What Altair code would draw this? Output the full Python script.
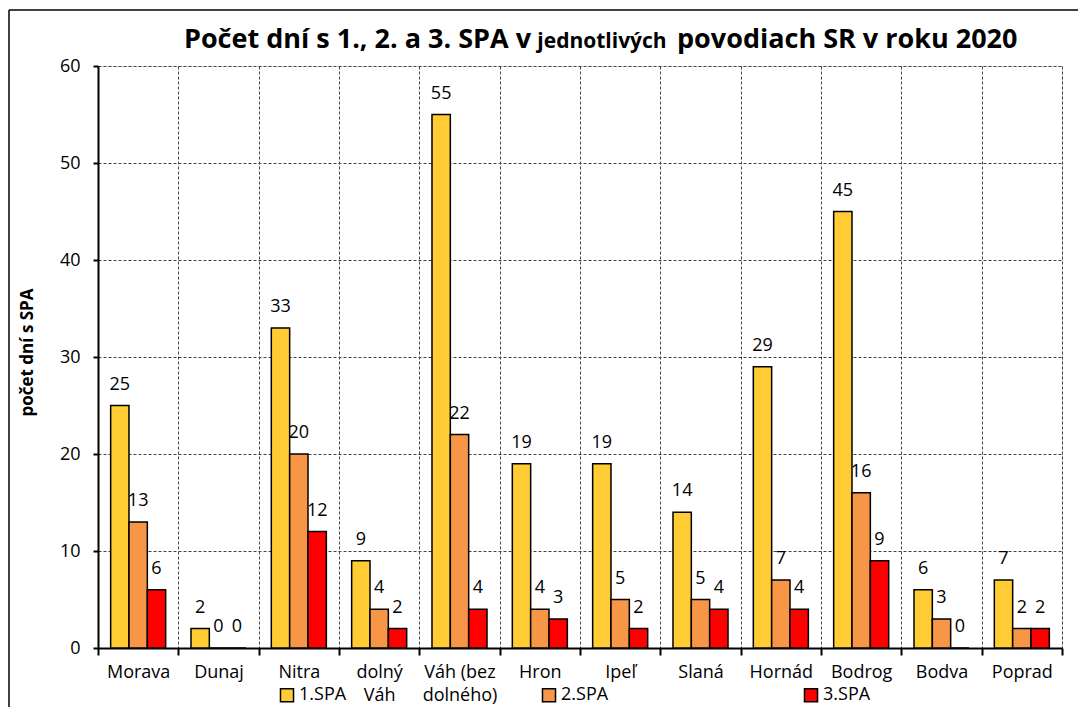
import altair as alt
import pandas as pd

basins = ["Morava", "Dunaj", "Nitra", "dolný Váh", "Váh (bez dolného)", "Hron",
          "Ipeľ", "Slaná", "Hornád", "Bodrog", "Bodva", "Poprad"]
series = ["1.SPA", "2.SPA", "3.SPA"]
spa1 = [25, 2, 33, 9, 55, 19, 19, 14, 29, 45, 6, 7]
spa2 = [13, 0, 20, 4, 22, 4, 5, 5, 7, 16, 3, 2]
spa3 = [6, 0, 12, 2, 4, 3, 2, 4, 4, 9, 0, 2]
colors = ["#FFCC33", "#F79646", "#FF0000"]
y_ticks = [0, 10, 20, 30, 40, 50, 60]

title_left = "Počet dní s 1., 2. a 3. SPA v"
title_mid = "jednotlivých"
title_right = "povodiach SR v roku 2020"
y_title = "počet dní s SPA"

rows = []
for s, vals in zip(series, [spa1, spa2, spa3]):
    for b, v in zip(basins, vals):
        rows.append({"povodie": b, "spa": s, "dni": v})
df = pd.DataFrame(rows)

FONT = "Open Sans"
FS = 18

label_expr = ("datum.label == 'dolný Váh' ? ['dolný', 'Váh'] : "
              "datum.label == 'Váh (bez dolného)' ? ['Váh (bez', 'dolného)'] : datum.label")

x_enc = alt.X("povodie:N", sort=basins,
              scale=alt.Scale(paddingInner=0, paddingOuter=0),
              axis=alt.Axis(title=None, tickBand="extent", grid=True,
                            gridDash=[3, 2], gridColor="#444444", gridWidth=1,
                            labelAngle=0, labelFontSize=FS, labelColor="black",
                            labelFont=FONT, labelPadding=8, labelLineHeight=23,
                            labelExpr=label_expr, tickSize=7, tickColor="black",
                            tickWidth=2, domainColor="black", domainWidth=2))
xo_enc = alt.XOffset("spa:N", sort=series,
                     scale=alt.Scale(paddingInner=0, paddingOuter=0.69))
y_enc = alt.Y("dni:Q", scale=alt.Scale(domain=[0, 60], nice=False),
              axis=alt.Axis(values=y_ticks, title=y_title, titleFont=FONT,
                            titleFontSize=17, titleFontWeight="bold",
                            titleColor="black", titleX=-71, titleY=286,
                            titleAngle=-90, titleAlign="center",
                            titleBaseline="middle",
                            grid=True, gridDash=[3, 2], gridColor="#444444",
                            labelFontSize=FS, labelColor="black", labelFont=FONT,
                            labelPadding=13, tickSize=5, tickColor="black",
                            tickWidth=2, domainColor="black", domainWidth=2))

base = alt.Chart(df)

bars = base.mark_bar(stroke="black", strokeWidth=1.5).encode(
    x=x_enc, xOffset=xo_enc, y=y_enc,
    color=alt.Color("spa:N", sort=series,
                    scale=alt.Scale(domain=series, range=colors),
                    legend=alt.Legend(title=None, orient="none", legendX=180,
                                      legendY=620, direction="horizontal",
                                      symbolType="square", symbolSize=170,
                                      symbolStrokeColor="black",
                                      symbolStrokeWidth=1.5, labelFontSize=FS,
                                      labelFont=FONT, labelColor="black",
                                      columnPadding=192, labelOffset=3))
)

labels = base.mark_text(baseline="alphabetic", dy=-16, fontSize=FS, font=FONT,
                        color="black").encode(
    x=alt.X("povodie:N", sort=basins), xOffset=alt.XOffset("spa:N", sort=series),
    y="dni:Q", text="dni:Q"
)

one = alt.Data(values=[{"a": 1}])
t_left = alt.Chart(one).mark_text(font=FONT, fontSize=27, fontWeight="bold",
                                  align="right", baseline="alphabetic",
                                  color="black").encode(
    x=alt.value(433), y=alt.value(-18), text=alt.value(title_left))
t_mid = alt.Chart(one).mark_text(font=FONT, fontSize=21, fontWeight="bold",
                                 align="center", baseline="alphabetic",
                                 color="black").encode(
    x=alt.value(504), y=alt.value(-18), text=alt.value(title_mid))
t_right = alt.Chart(one).mark_text(font=FONT, fontSize=27, fontWeight="bold",
                                   align="left", baseline="alphabetic",
                                   color="black").encode(
    x=alt.value(579), y=alt.value(-18), text=alt.value(title_right))

frame_left = alt.Chart(one).mark_rule(color="black", strokeWidth=1.5).encode(
    x=alt.value(-89), y=alt.value(-56), y2=alt.value(700))
frame_top = alt.Chart(one).mark_rule(color="black", strokeWidth=1.5).encode(
    x=alt.value(-89), x2=alt.value(1000), y=alt.value(-56))

chart = alt.layer(bars, labels, t_left, t_mid, t_right, frame_left, frame_top).properties(
    width=964, height=582,
    autosize=alt.AutoSizeParams(type="none"),
    padding={"left": 90, "top": 58, "right": 16, "bottom": 59},
).configure_view(stroke="black", strokeWidth=1.5).configure(background="white")

chart.save("out.html", embed_options={"renderer": "svg", "actions": False})
